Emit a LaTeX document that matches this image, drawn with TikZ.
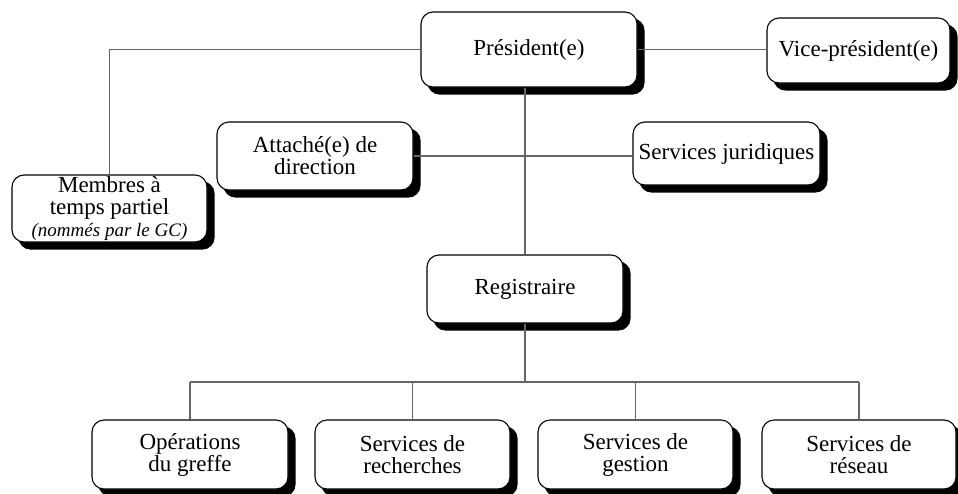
\documentclass[tikz,border=0pt]{standalone}
\usepackage{fontspec}
\setmainfont{Liberation Serif}
\usetikzlibrary{backgrounds}
\begin{document}
\begin{tikzpicture}[x=1pt,y=-1pt,
  box/.style={draw=black, line width=1.1pt, fill=white, rounded corners=12pt,
    align=center, inner sep=0pt, font=\fontsize{23}{22}\selectfont},
  shadowbox/.style={fill=black, rounded corners=12pt},
  conn/.style={draw=black!60, line width=1.1pt}]
\useasboundingbox (0,0) rectangle (958,493);
\node[box, minimum width=216pt, minimum height=75pt] (pres) at (529,49.5) {Président(e)};
\node[box, minimum width=183pt, minimum height=65pt] (vp) at (858.5,50.5) {Vice-président(e)};
\node[box, minimum width=196pt, minimum height=68pt] (att) at (315,156) {Attaché(e) de\\direction};
\node[box, minimum width=187pt, minimum height=63pt] (jur) at (726.5,153.5) {Services juridiques};
\node[box, minimum width=195pt, minimum height=67pt] (mem) at (109.5,208.5) {Membres à\\temps partiel\\{\fontsize{19}{20}\selectfont\itshape (nommés par le GC)}};
\node[box, minimum width=196pt, minimum height=68pt] (reg) at (525,289) {Registraire};
\node[box, minimum width=196pt, minimum height=69pt] (ope) at (190,454.5) {Opérations\\du greffe};
\node[box, minimum width=195pt, minimum height=69pt] (rec) at (412.5,454.5) {Services de\\recherches};
\node[box, minimum width=195pt, minimum height=69pt] (ges) at (635.5,454.5) {Services de\\gestion};
\node[box, minimum width=194pt, minimum height=69pt] (res) at (859,454.5) {Services de\\réseau};
\coordinate (bus) at (525,382);
\begin{scope}[on background layer]
\foreach \n in {pres,vp,att,jur,mem,reg,ope,rec,ges,res}
  \path[shadowbox] ([shift={(7pt,-7pt)}]\n.north west) rectangle ([shift={(7pt,-7pt)}]\n.south east);
\path[conn] (pres.west) -| (mem.north);
\path[conn] (pres.east) -- (pres.east -| vp.west);
\path[conn] (att.east) -- (att.east -| jur.west);
\path[conn] (reg.north |- pres.south) -- (reg.north);
\path[conn] (reg.south) -- (bus);
\path[conn] (ope.north |- bus) -- (res.north |- bus);
\path[conn] (ope.north |- bus) -- (ope.north);
\path[conn] (rec.north |- bus) -- (rec.north);
\path[conn] (ges.north |- bus) -- (ges.north);
\path[conn] (res.north |- bus) -- (res.north);
\end{scope}
\end{tikzpicture}
\end{document}
